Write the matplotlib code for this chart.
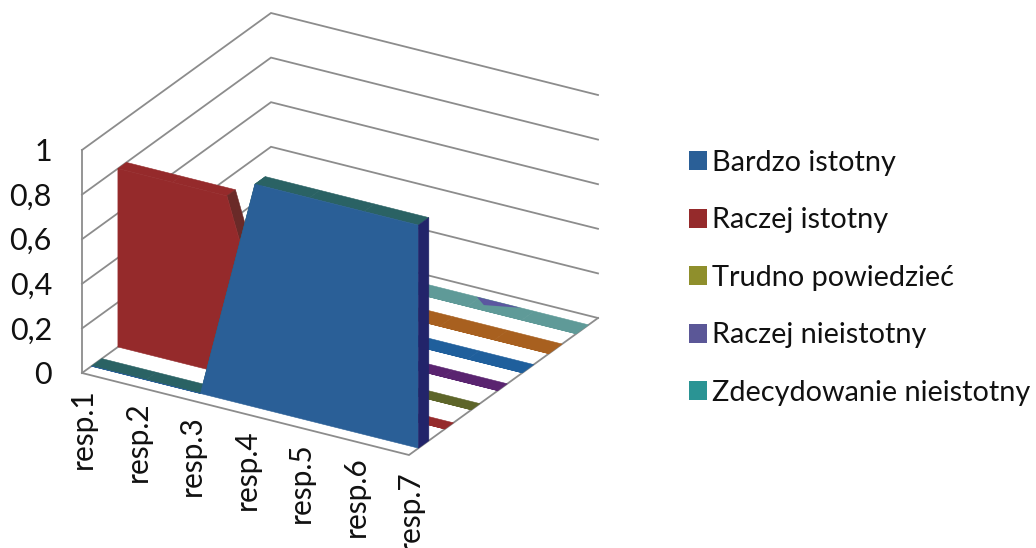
import matplotlib
matplotlib.use("Agg")
import matplotlib.pyplot as plt
from matplotlib.patches import Patch, Polygon

plt.rcParams['font.family'] = ['Lato', 'DejaVu Sans']

categories = ['resp.1', 'resp.2', 'resp.3', 'resp.4', 'resp.5', 'resp.6', 'resp.7']
y_ticks = [0, 0.2, 0.4, 0.6, 0.8, 1]
y_labels = ['0', '0,2', '0,4', '0,6', '0,8', '1']

# serie od przodu do tylu
s_blue = [0, 0, 0, 1, 1, 1, 1]
s_red = [0.8, 0.8, 0.8, 0, 0, 0, 0]
s_olive = [0, 0, 0, 0, 0, 0, 0]
s_purple = [0, 0, 0, 0, 0, 0, 0]
s_blue2 = [0, 0, 0, 0, 0, 0, 0]
s_orange = [0, 0, 0, 0, 0, 0, 0]
s_teal = [0, 0, 0, 0, 0, 0, 0]
series = [s_blue, s_red, s_olive, s_purple, s_blue2, s_orange, s_teal]

legend_labels = ['Bardzo istotny', 'Raczej istotny', 'Trudno powiedzieć',
                 'Raczej nieistotny', 'Zdecydowanie nieistotny']
legend_colors = ['#2a5f97', '#952a2b', '#8f8f2c', '#5b5797', '#2a9494']

# uklad rzutu w pikselach
ORIGIN = (82, 373)
CAT_VEC = (327, 82)
DEPTH_VEC = (189, -137)
HEIGHT = 223

depth_front = [0.05, 0.19, 0.33, 0.47, 0.60, 0.74, 0.885]
depth_back = [0.105, 0.235, 0.375, 0.52, 0.66, 0.81, 0.95]
front_colors = ['#2a5f97', '#952a2b', '#5d6529', '#5a2470', '#1f5f9c', '#a8601f', '#5f9a98']
top_colors = ['#2a6264', '#952a2b', '#5d6529', '#5a2470', '#1f5f9c', '#a8601f', '#5f9a98']
side_colors = ['#22246a', '#6a2a28', '#5d6529', '#5a2470', '#1f5f9c', '#a8601f', '#5f9a98']


def project(cat, val, depth):
    t = cat / (len(categories) - 1)
    x = ORIGIN[0] + CAT_VEC[0] * t + DEPTH_VEC[0] * depth
    y = ORIGIN[1] + CAT_VEC[1] * t + DEPTH_VEC[1] * depth - HEIGHT * val
    return x, y


fig = plt.figure(figsize=(10.36, 5.48), dpi=100)
ax = fig.add_axes([0, 0, 1, 1])
ax.set_xlim(0, 1036)
ax.set_ylim(548, 0)
ax.axis('off')

last = len(categories) - 1
wall = dict(color='#8c8c8c', lw=1.3, zorder=1, solid_joinstyle='miter')

# sciany i siatka
for tick in y_ticks:
    pts = [project(0, tick, 0), project(0, tick, 1), project(last, tick, 1)]
    ax.plot(*zip(*pts), **wall)
ax.plot(*zip(project(0, 0, 0), project(0, 1, 0)), **wall)
ax.plot(*zip(project(0, 0, 0), project(last, 0, 0), project(last, 0, 1)), **wall)

# powierzchnie od tylu do przodu
for idx in range(len(series) - 1, -1, -1):
    vals = series[idx]
    d0, d1 = depth_front[idx], depth_back[idx]
    z = 10 + (len(series) - idx) * 10
    for i in range(last):
        col = side_colors[idx] if vals[i + 1] < vals[i] else top_colors[idx]
        ax.add_patch(Polygon([project(i, vals[i], d0), project(i + 1, vals[i + 1], d0),
                              project(i + 1, vals[i + 1], d1), project(i, vals[i], d1)],
                             closed=True, fc=col, ec=col, lw=0.4, zorder=z))
    front = [project(i, 0, d0) for i in range(last + 1)]
    front += [project(i, vals[i], d0) for i in range(last, -1, -1)]
    ax.add_patch(Polygon(front, closed=True, fc=front_colors[idx], ec=front_colors[idx],
                         lw=0.4, zorder=z + 2))
    if vals[last] > 0:
        ax.add_patch(Polygon([project(last, 0, d0), project(last, vals[last], d0),
                              project(last, vals[last], d1), project(last, 0, d1)],
                             closed=True, fc=side_colors[idx], ec=side_colors[idx],
                             lw=0.4, zorder=z + 3))

# fioletowy fragment na ostatnim pasku
ax.add_patch(Polygon([project(3.95, 0, 0.95), project(4.75, 0, 0.95), project(4.2, 0, 0.915)],
                     closed=True, fc='#5b57a0', ec='none', zorder=25))

# opisy osi
for tick, lab in zip(y_ticks, y_labels):
    x, y = project(0, tick, 0)
    ax.text(x - 30, y + 2, lab, ha='right', va='center', fontsize=22, color='#111111')
for i, lab in enumerate(categories):
    x, y = project(i, 0, 0)
    ax.text(x + 1, y + 15, lab, ha='center', va='top', rotation=90, fontsize=21.5, color='#111111')

handles = [Patch(fc=c, ec='none') for c in legend_colors]
fig.legend(handles, legend_labels, loc='upper left', bbox_to_anchor=(689 / 1036, 1 - 150 / 548),
           frameon=False, fontsize=20.8, handlelength=0.62, handleheight=0.62,
           handletextpad=0.18, labelspacing=1.09, borderaxespad=0, borderpad=0,
           labelcolor='#111111')

fig.savefig('out.png', dpi=100)
